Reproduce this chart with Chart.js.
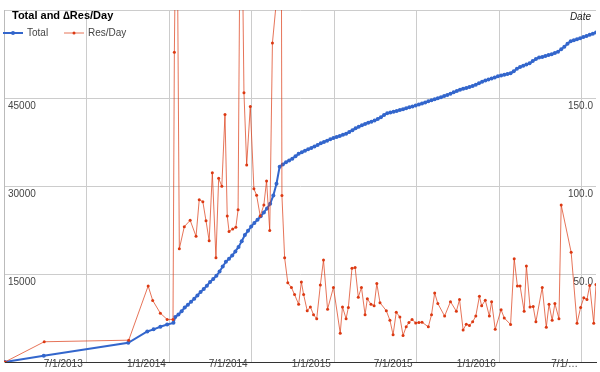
<!DOCTYPE html>
<html>
<head>
<meta charset="utf-8">
<script src="https://cdn.jsdelivr.net/npm/chart.js@4.4.0/dist/chart.umd.min.js"></script>
<style>
  html, body { margin: 0; padding: 0; background: #fff; }
</style>
</head>
<body>
<canvas id="chart" width="600" height="372"></canvas>
<script>
// x values are days counted from 1/1/2013
const tickDays = [181, 365, 546, 730, 911, 1095, 1277];
const tickLabels = ['7/1/2013', '1/1/2014', '7/1/2014', '1/1/2015', '7/1/2015', '1/1/2016', '7/1/\u2026'];

const totalDays = [0, 86, 273, 315, 329, 344, 359, 373,
  377, 384, 391, 398, 405, 412, 419, 426, 433, 440,
  447, 454, 461, 468, 475, 482, 489, 496, 503, 510,
  517, 524, 531, 538, 545, 552, 559, 566, 573, 580,
  587, 594, 601, 608, 615, 622, 629, 636, 643, 650,
  657, 664, 671, 678, 685, 692, 699, 706, 713, 720,
  727, 734, 741, 748, 755, 762, 769, 776, 783, 790,
  797, 804, 811, 818, 825, 832, 839, 846, 853, 860,
  867, 874, 881, 888, 895, 902, 909, 916, 923, 930,
  937, 944, 951, 958, 965, 972, 979, 986, 993, 1000,
  1007, 1014, 1021, 1028, 1035, 1042, 1049, 1056, 1063, 1070,
  1077, 1084, 1091, 1098, 1105, 1112, 1119, 1126, 1133, 1140,
  1147, 1154, 1161, 1168, 1175, 1182, 1189, 1196, 1203, 1210,
  1217, 1224, 1231, 1238, 1245, 1252, 1259, 1266, 1273, 1280,
  1287, 1294, 1301, 1308];
const totalValues = [0, 1060, 3280, 5200, 5570, 6010, 6390, 6670,
  7650, 8080, 8650, 9280, 9770, 10290, 10790, 11350, 11930, 12450,
  13010, 13640, 14140, 14690, 15420, 16290, 17080, 17620, 18150, 18850,
  19620, 20600, 21630, 22360, 23080, 23710, 24240, 24840, 25500, 26170,
  26960, 28400, 30400, 33300, 33680, 34040, 34350, 34650, 35060, 35480,
  35770, 36010, 36250, 36490, 36750, 37000, 37270, 37510, 37730, 37950,
  38170, 38360, 38530, 38720, 38890, 39200, 39520, 39830, 40100, 40340,
  40580, 40780, 40970, 41160, 41420, 41700, 42110, 42390, 42520, 42650,
  42780, 42940, 43100, 43260, 43410, 43570, 43740, 43900, 44060, 44230,
  44430, 44610, 44790, 44950, 45130, 45330, 45530, 45740, 45960, 46210,
  46400, 46560, 46710, 46870, 47040, 47270, 47510, 47750, 47970, 48150,
  48330, 48510, 48700, 48840, 48960, 49080, 49210, 49570, 49990, 50280,
  50480, 50690, 50920, 51290, 51630, 51900, 51980, 52160, 52310, 52470,
  52690, 52890, 53300, 53750, 54230, 54690, 54850, 55030, 55200, 55380,
  55560, 55760, 55950, 56170];

const resDays = [0, 87, 274, 317, 327, 344, 359, 372, 375, 380,
  386, 397, 410, 423, 430, 438, 445, 452, 459, 467,
  473, 480, 487, 492, 496, 504, 511, 516, 522, 529,
  535, 543, 551, 557, 565, 573, 579, 586, 592, 600,
  606, 613, 619, 626, 634, 641, 650, 656, 661, 669,
  676, 683, 690, 698, 705, 714, 727, 742, 747, 755,
  760, 768, 775, 782, 789, 797, 802, 810, 817, 823,
  830, 844, 852, 859, 866, 874, 881, 888, 894, 901,
  909, 916, 923, 937, 944, 951, 958, 973, 986, 999,
  1006, 1014, 1021, 1028, 1035, 1042, 1050, 1055, 1063, 1072,
  1077, 1085, 1098, 1105, 1119, 1127, 1134, 1140, 1149, 1154,
  1162, 1169, 1175, 1189, 1198, 1204, 1211, 1217, 1226, 1231,
  1253, 1266, 1274, 1281, 1288, 1294, 1303, 1308];
const resValues = [0, 11.5, 12.4, 43.2, 35, 27.7, 24.2, 24.2, 176, 300,
  64.3, 76.9, 80.5, 71.4, 92.2, 91.1, 80.2, 68.9, 107.5, 59.2,
  104.4, 99.8, 140.6, 82.9, 74.2, 75.6, 76.5, 86.5, 310, 153,
  111.9, 145.2, 98.4, 94.7, 82.9, 89.2, 102.9, 74.7, 181.3, 203,
  900, 94.6, 59.2, 45, 42.3, 38.3, 32.8, 45.5, 38.3, 29.1,
  31.3, 26.8, 24.6, 43.7, 57.9, 30, 42.4, 16.4, 31.3, 24.6,
  31, 53.2, 53.7, 36.8, 42.4, 26.9, 35.9, 32.8, 31.9, 44.6,
  33.7, 29.1, 23.7, 15.5, 28.3, 25.5, 15.1, 20, 22.4, 24.2,
  22.2, 22.4, 22.6, 20, 26.8, 39.2, 33.2, 26.1, 34.3, 28.8,
  35.5, 18.2, 21.5, 20.8, 22.8, 26.1, 37.3, 31.9, 35.1, 26.1,
  34.3, 18.6, 29.7, 25, 21.3, 58.6, 43.2, 43.2, 28.8, 54.6,
  31.3, 31.5, 22.8, 42.4, 19.7, 32.8, 23.7, 33.2, 24.6, 89.2,
  62.4, 22, 31, 36.5, 35.5, 43.5, 22, 44];

const BLUE = '#3366cc';
const RED = '#dc3912';
const RED_LINE = 'rgba(220,57,18,0.7)';
const FONT = '"Liberation Sans", Arial, sans-serif';

Chart.defaults.font.family = FONT;

const canvas = document.getElementById('chart');
const ctx = canvas.getContext('2d');

// title, legend and the "Date" label sit on top of the plot like in the original
const overlay = {
  id: 'overlay',
  afterDraw(chart) {
    const c = chart.ctx;
    c.save();
    c.textBaseline = 'middle';
    c.fillStyle = '#000';
    c.font = 'bold 11px ' + FONT;
    c.fillText('Total and \u2206Res/Day', 12, 16);

    const items = [
      { text: 'Total', color: BLUE, line: BLUE, width: 2, r: 2, x: 3 },
      { text: 'Res/Day', color: RED, line: RED_LINE, width: 1, r: 1.5, x: 64 }
    ];
    c.font = '10px ' + FONT;
    items.forEach(it => {
      c.strokeStyle = it.line;
      c.lineWidth = it.width;
      c.beginPath();
      c.moveTo(it.x, 33);
      c.lineTo(it.x + 20, 33);
      c.stroke();
      c.fillStyle = it.color;
      c.beginPath();
      c.arc(it.x + 10, 33, it.r, 0, Math.PI * 2);
      c.fill();
      c.fillStyle = '#444';
      c.fillText(it.text, it.x + 24, 33);
    });

    c.font = 'italic 10px ' + FONT;
    c.textAlign = 'right';
    c.fillStyle = '#222';
    c.fillText('Date', 591, 17);
    c.restore();
  }
};

const chart = new Chart(ctx, {
  type: 'line',
  data: {
    datasets: [{
      label: 'Total',
      data: totalDays.map((d, i) => ({ x: d, y: totalValues[i] })),
      yAxisID: 'y',
      borderColor: BLUE,
      backgroundColor: BLUE,
      pointBackgroundColor: BLUE,
      borderWidth: 2,
      pointRadius: 2,
      pointBorderWidth: 0,
      order: 1
    }, {
      label: 'Res/Day',
      data: resDays.map((d, i) => ({ x: d, y: resValues[i] })),
      yAxisID: 'y1',
      borderColor: RED_LINE,
      backgroundColor: RED,
      pointBackgroundColor: RED,
      borderWidth: 1,
      pointRadius: 1.5,
      pointBorderWidth: 0,
      order: 0
    }]
  },
  options: {
    responsive: false,
    animation: false,
    events: [],
    layout: { padding: { top: 4, left: 0, right: 0, bottom: 0 } },
    scales: {
      x: {
        type: 'linear',
        min: -2,
        max: 1308,
        afterFit: s => { s.height = 2; },
        afterBuildTicks: s => { s.ticks = tickDays.map(v => ({ value: v })); },
        grid: { color: '#cccccc', drawTicks: false },
        border: { color: '#333333' },
        ticks: {
          autoSkip: false,
          maxRotation: 0,
          mirror: true,
          align: 'end',
          labelOffset: -4,
          padding: -8,
          color: '#444',
          font: { size: 10 },
          callback: (v, i) => tickLabels[i]
        }
      },
      y: {
        position: 'left',
        min: 0,
        max: 60000,
        afterFit: s => { s.width = 3; },
        grid: {
          drawTicks: false,
          color: c => c.tick && c.tick.value === 0 ? 'rgba(0,0,0,0)' : '#cccccc'
        },
        border: { color: '#bbbbbb' },
        ticks: {
          stepSize: 15000,
          mirror: true,
          padding: 4,
          labelOffset: 8,
          color: '#444',
          font: { size: 10 },
          callback: v => (v > 0 && v < 60000) ? String(v) : ''
        }
      },
      y1: {
        position: 'right',
        min: 0,
        max: 200,
        afterFit: s => { s.width = 2; },
        grid: { display: false, drawTicks: false },
        border: { display: false },
        ticks: {
          stepSize: 50,
          mirror: true,
          padding: -3,
          labelOffset: 8,
          color: '#444',
          font: { size: 10 },
          callback: v => (v > 0 && v < 200) ? v.toFixed(1) : ''
        }
      }
    },
    plugins: {
      legend: { display: false },
      tooltip: { enabled: false }
    }
  },
  plugins: [overlay]
});
</script>
</body>
</html>
